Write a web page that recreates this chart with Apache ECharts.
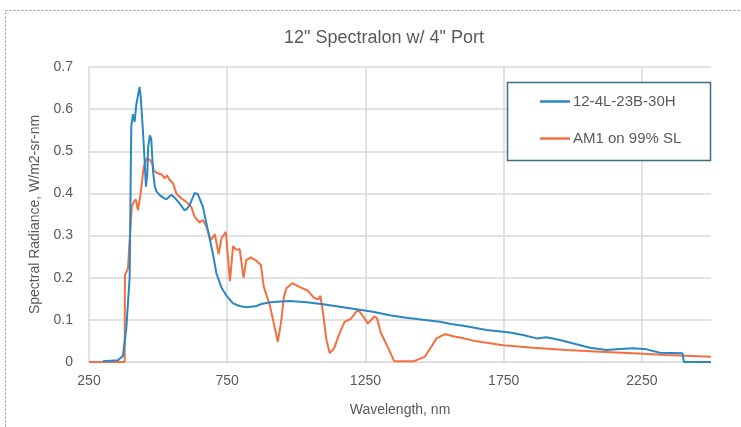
<!DOCTYPE html>
<html>
<head>
<meta charset="utf-8">
<script src="https://cdn.jsdelivr.net/npm/echarts@6/dist/echarts.min.js"></script>
<style>html,body{margin:0;padding:0;background:#fff;}#c{width:741px;height:427px;}</style>
</head>
<body>
<div id="c"></div>
<script>
const titleText = '12" Spectralon w/ 4" Port';
const seriesNames = ['12-4L-23B-30H', 'AM1 on 99% SL'];
const xTicks = [250, 750, 1250, 1750, 2250];
const yTicks = [0, 0.1, 0.2, 0.3, 0.4, 0.5, 0.6, 0.7];

const blueWl = [300,355,373,385,397,401,403,409,415,421,433,437,445,451,456,461,464,470,475,482,488,494,506,518,530,548,560,578,596,605,614,632,644,662,680,699,711,729,750,771,795,819,856,874,900,928,976,1037,1097,1157,1217,1277,1338,1398,1458,1519,1560,1615,1688,1772,1820,1869,1905,1953,2013,2062,2122,2158,2218,2267,2315,2397,2402,2500];
const blueVal = [0.002,0.004,0.015,0.08,0.2,0.45,0.56,0.588,0.57,0.61,0.653,0.63,0.55,0.48,0.416,0.448,0.51,0.538,0.53,0.45,0.416,0.405,0.396,0.39,0.386,0.397,0.39,0.376,0.36,0.364,0.372,0.401,0.398,0.368,0.313,0.254,0.21,0.177,0.155,0.139,0.133,0.130,0.133,0.1375,0.141,0.143,0.1447,0.1415,0.137,0.131,0.125,0.119,0.111,0.105,0.100,0.0956,0.090,0.085,0.076,0.070,0.064,0.056,0.0586,0.052,0.042,0.034,0.0285,0.030,0.0325,0.030,0.022,0.0206,0,0];

const orangeWl = [250,379,380,391,397,405,412,419,427,436,448,458,470,479,484,494,512,524,532,542,554,566,584,602,620,632,650,662,675,690,705,719,729,745,760,771,783,795,809,819,835,852,872,882,904,933,946,955,964,985,1015,1042,1064,1080,1087,1097,1109,1121,1137,1155,1175,1196,1223,1241,1259,1282,1292,1305,1326,1354,1425,1464,1490,1507,1525,1540,1567,1600,1652,1748,1856,1977,2098,2218,2339,2500];
const orangeVal = [0,0,0.206,0.222,0.289,0.37,0.38,0.386,0.36,0.396,0.463,0.483,0.48,0.471,0.455,0.449,0.445,0.436,0.443,0.432,0.424,0.40,0.388,0.38,0.368,0.345,0.331,0.337,0.321,0.289,0.303,0.256,0.293,0.309,0.192,0.275,0.266,0.268,0.2,0.242,0.248,0.242,0.23,0.179,0.135,0.048,0.10,0.155,0.175,0.187,0.177,0.169,0.152,0.149,0.157,0.115,0.052,0.021,0.033,0.066,0.096,0.102,0.124,0.109,0.091,0.108,0.104,0.07,0.042,0.002,0.002,0.012,0.038,0.056,0.062,0.066,0.061,0.057,0.049,0.040,0.034,0.0285,0.0245,0.0206,0.0166,0.0126];

const blueData = blueWl.map((w, i) => [w, blueVal[i]]);
const orangeData = orangeWl.map((w, i) => [w, orangeVal[i]]);

const textColor = '#595959';
const gridColor = '#d9d9d9';
const blue = '#2a87c3';
const orange = '#f2703f';

const chart = echarts.init(document.getElementById('c'), null, {renderer: 'canvas'});
chart.setOption({
  animation: false,
  backgroundColor: '#fff',
  title: {
    text: titleText,
    left: 379, top: 24, textAlign: 'center',
    textStyle: {color: textColor, fontSize: 18, fontWeight: 'normal', fontFamily: 'Liberation Sans, sans-serif'}
  },
  graphic: [
    {type: 'rect', shape: {x: 5.5, y: 10.5, width: 800, height: 600}, style: {fill: 'none', stroke: '#8c8c8c', lineWidth: 1, lineDash: [2, 2]}, z: -10},
    {type: 'rect', shape: {x: 507.5, y: 82.5, width: 203, height: 78}, style: {fill: '#fff', stroke: '#3f6d87', lineWidth: 1.5}, z: 10}
  ],
  legend: {
    data: [
      {name: seriesNames[0], icon: 'rect', itemStyle: {color: blue}},
      {name: seriesNames[1], icon: 'rect', itemStyle: {color: orange}}
    ],
    orient: 'vertical',
    left: 540, top: 94,
    itemWidth: 30, itemHeight: 2.5, itemGap: 22,
    padding: 0,
    z: 20,
    textStyle: {color: textColor, fontSize: 15, fontFamily: 'Liberation Sans, sans-serif', padding: [0, 0, 0, -2]}
  },
  grid: {left: 89, right: 30, top: 67, bottom: 65, containLabel: false},
  xAxis: {
    type: 'value', min: 250, max: 2500, interval: 500,
    name: 'Wavelength, nm', nameLocation: 'middle', nameGap: 41,
    nameTextStyle: {color: textColor, fontSize: 14, fontFamily: 'Liberation Sans, sans-serif'},
    axisLine: {show: true, lineStyle: {color: gridColor, width: 1}},
    axisTick: {show: false},
    axisLabel: {color: textColor, fontSize: 14, margin: 12, showMaxLabel: false, fontFamily: 'Liberation Sans, sans-serif',
      formatter: v => xTicks.includes(v) ? String(v) : ''},
    splitLine: {show: true, showMaxLine: false, lineStyle: {color: gridColor, width: 1.5}}
  },
  yAxis: {
    type: 'value', min: 0, max: 0.7, interval: 0.1,
    name: 'Spectral Radiance, W/m2-sr-nm', nameLocation: 'middle', nameGap: 45,
    nameTextStyle: {color: textColor, fontSize: 14, fontFamily: 'Liberation Sans, sans-serif'},
    axisLine: {show: false},
    axisTick: {show: false},
    axisLabel: {color: textColor, fontSize: 14, margin: 16, fontFamily: 'Liberation Sans, sans-serif',
      formatter: v => { const t = yTicks.find(k => Math.abs(k - v) < 1e-9); return t === undefined ? '' : String(t); }},
    splitLine: {show: true, lineStyle: {color: gridColor, width: 1.5}}
  },
  series: [
    {name: seriesNames[0], type: 'line', data: blueData, showSymbol: false, symbol: 'none', lineStyle: {color: blue, width: 2}, itemStyle: {color: blue}, z: 3},
    {name: seriesNames[1], type: 'line', data: orangeData, showSymbol: false, symbol: 'none', lineStyle: {color: orange, width: 2}, itemStyle: {color: orange}, z: 2}
  ]
});
</script>
</body>
</html>
